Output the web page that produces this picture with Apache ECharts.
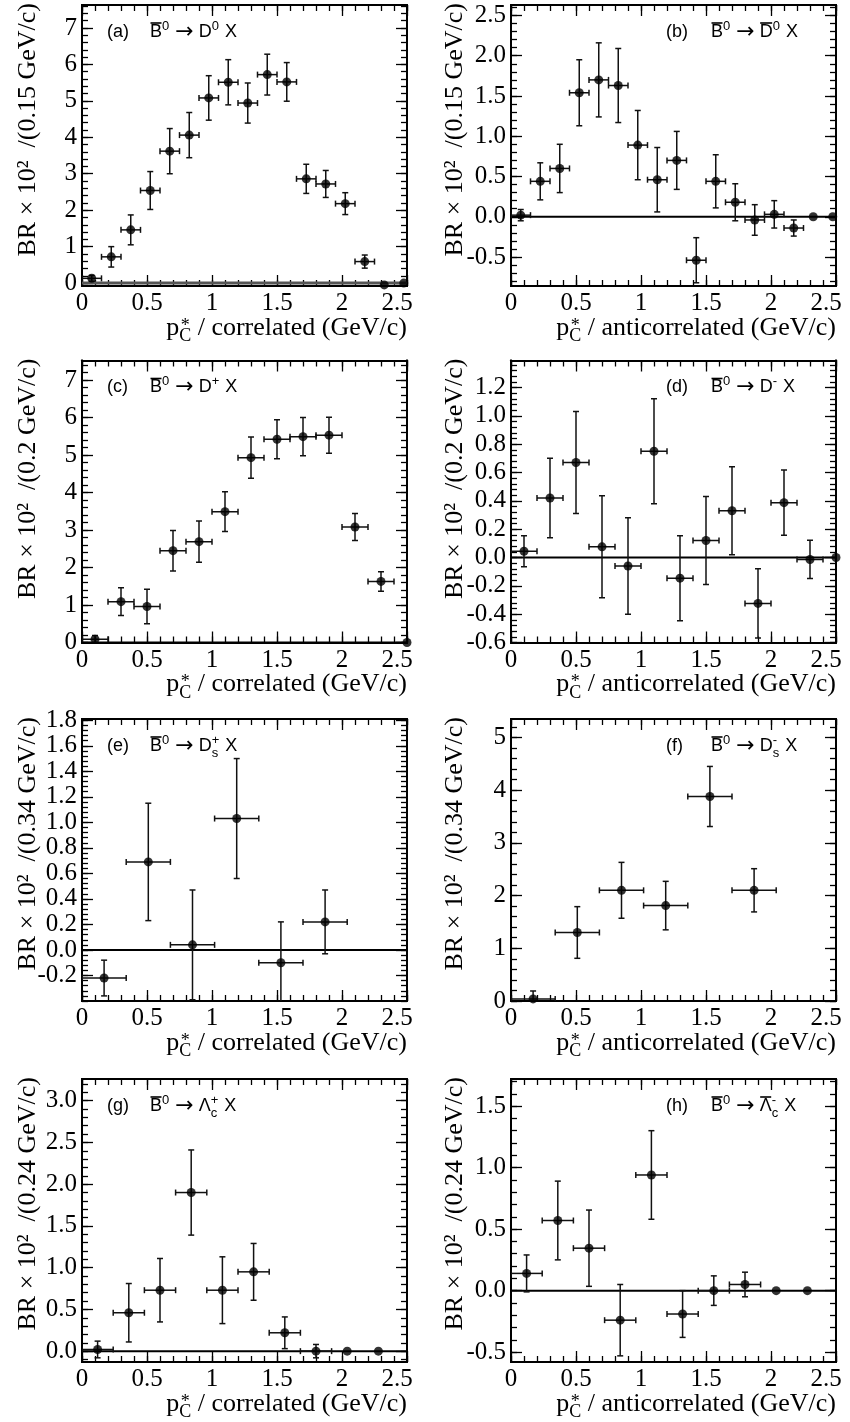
<!DOCTYPE html>
<html>
<head>
<meta charset="utf-8">
<title>B0bar -> charm, momentum spectra</title>
<script src="https://cdn.jsdelivr.net/npm/echarts@6.0.0/dist/echarts.min.js"></script>
<style>
  html, body { margin: 0; padding: 0; background: #fff; }
  #chart { width: 850px; height: 1422px; }
</style>
</head>
<body>
<div id="chart"></div>
<script>
// values: bin centre, BR x 10^2 per bin, error
// (a) D0, correlated, 0.15 GeV/c bins
const xA = [0.075, 0.225, 0.375, 0.525, 0.675, 0.825, 0.975, 1.125, 1.275, 1.425, 1.575, 1.725, 1.875, 2.025, 2.175, 2.325, 2.475]
const yA = [0.13, 0.72, 1.46, 2.54, 3.62, 4.06, 5.08, 5.51, 4.94, 5.72, 5.52, 2.86, 2.72, 2.18, 0.59, -0.05, 0.0]
const errA = [0.08, 0.28, 0.41, 0.52, 0.62, 0.62, 0.61, 0.62, 0.55, 0.56, 0.53, 0.40, 0.37, 0.30, 0.18, 0, 0]
// (b) D0bar, anticorrelated
const xB = [0.075, 0.225, 0.375, 0.525, 0.675, 0.825, 0.975, 1.125, 1.275, 1.425, 1.575, 1.725, 1.875, 2.025, 2.175, 2.325, 2.475]
const yB = [0.02, 0.44, 0.60, 1.54, 1.70, 1.63, 0.89, 0.46, 0.70, -0.54, 0.44, 0.18, -0.04, 0.03, -0.14, 0.0, 0.0]
const errB = [0.07, 0.23, 0.30, 0.41, 0.46, 0.46, 0.43, 0.40, 0.36, 0.28, 0.33, 0.23, 0.19, 0.17, 0.10, 0, 0]
// (c) D+, correlated, 0.2 GeV/c bins
const xC = [0.1, 0.3, 0.5, 0.7, 0.9, 1.1, 1.3, 1.5, 1.7, 1.9, 2.1, 2.3, 2.5]
const yC = [0.09, 1.09, 0.96, 2.45, 2.69, 3.49, 4.93, 5.42, 5.49, 5.53, 3.08, 1.63, 0.0]
const errC = [0.10, 0.37, 0.46, 0.54, 0.55, 0.53, 0.55, 0.52, 0.51, 0.48, 0.36, 0.26, 0]
// (d) D-, anticorrelated
const xD = [0.1, 0.3, 0.5, 0.7, 0.9, 1.1, 1.3, 1.5, 1.7, 1.9, 2.1, 2.3, 2.5]
const yD = [0.044, 0.42, 0.67, 0.075, -0.06, 0.75, -0.146, 0.12, 0.33, -0.324, 0.387, -0.014, 0.0]
const errD = [0.11, 0.28, 0.36, 0.36, 0.34, 0.37, 0.30, 0.31, 0.31, 0.245, 0.23, 0.135, 0]
// (e) Ds+, correlated, 0.34 GeV/c bins
const xE = [0.17, 0.51, 0.85, 1.19, 1.53, 1.87]
const yE = [-0.22, 0.69, 0.04, 1.03, -0.10, 0.22]
const errE = [0.14, 0.46, 0.43, 0.47, 0.32, 0.25]
// (f) Ds-, anticorrelated
const xF = [0.17, 0.51, 0.85, 1.19, 1.53, 1.87]
const yF = [0.04, 1.30, 2.10, 1.81, 3.88, 2.10]
const errF = [0.15, 0.49, 0.53, 0.46, 0.57, 0.41]
// (g) Lambda_c+, correlated, 0.24 GeV/c bins
const xG = [0.12, 0.36, 0.60, 0.84, 1.08, 1.32, 1.56, 1.80, 2.04, 2.28]
const yG = [0.02, 0.46, 0.73, 1.90, 0.73, 0.95, 0.22, 0.0, 0.0, 0.0]
const errG = [0.10, 0.35, 0.38, 0.51, 0.40, 0.34, 0.19, 0.08, 0, 0]
// (h) Lambda_c-bar, anticorrelated
const xH = [0.12, 0.36, 0.60, 0.84, 1.08, 1.32, 1.56, 1.80, 2.04, 2.28]
const yH = [0.14, 0.57, 0.345, -0.24, 0.94, -0.19, 0.0, 0.05, 0.0, 0.0]
const errH = [0.15, 0.32, 0.31, 0.29, 0.36, 0.19, 0.12, 0.10, 0, 0]

// tick labels
const xTicks = [0, 0.5, 1, 1.5, 2, 2.5]
const yTicksA = [0, 1, 2, 3, 4, 5, 6, 7]
const yTicksB = [-0.5, 0, 0.5, 1, 1.5, 2, 2.5]
const yTicksC = [0, 1, 2, 3, 4, 5, 6, 7]
const yTicksD = [-0.6, -0.4, -0.2, 0, 0.2, 0.4, 0.6, 0.8, 1.0, 1.2]
const yTicksE = [-0.2, 0, 0.2, 0.4, 0.6, 0.8, 1.0, 1.2, 1.4, 1.6, 1.8]
const yTicksF = [0, 1, 2, 3, 4, 5]
const yTicksG = [0, 0.5, 1, 1.5, 2, 2.5, 3]
const yTicksH = [-0.5, 0, 0.5, 1, 1.5]
const zeroLine = [[0, 0], [2.5, 0]]

const SERIF = '"Liberation Serif", "DejaVu Serif", serif'
const SANS = '"Liberation Sans", "DejaVu Sans", sans-serif'
const ARROW_FONT = '"DejaVu Sans", sans-serif'

// pieces of the decay labels
const B0 = [{ t: 'B', bar: 1 }, { sup: '0' }, { t: ' ' }, { t: '\u2192', fam: ARROW_FONT, size: 22 }, { t: ' ' }]
const panels = [
  { tag: '(a)', x: xA, y: yA, err: errA, half: 0.075, yTicks: yTicksA, yMin: -0.08, yMax: 7.63, minor: 0.2, dec: 0, bin: '0.15', kind: 'correlated', zero: '#555', zeroW: 3,
    decay: B0.concat([{ t: 'D' }, { sup: '0' }, { t: ' X' }]) },
  { tag: '(b)', x: xB, y: yB, err: errB, half: 0.075, yTicks: yTicksB, yMin: -0.86, yMax: 2.63, minor: 0.1, dec: 1, bin: '0.15', kind: 'anticorrelated',
    decay: B0.concat([{ t: 'D', bar: 1 }, { sup: '0' }, { t: ' X' }]) },
  { tag: '(c)', x: xC, y: yC, err: errC, half: 0.1, yTicks: yTicksC, yMin: 0, yMax: 7.52, minor: 0.2, dec: 0, bin: '0.2', kind: 'correlated',
    decay: B0.concat([{ t: 'D' }, { sup: '+' }, { t: ' X' }]) },
  { tag: '(d)', x: xD, y: yD, err: errD, half: 0.1, yTicks: yTicksD, yMin: -0.6, yMax: 1.39, minor: 0.04, dec: 1, bin: '0.2', kind: 'anticorrelated',
    decay: B0.concat([{ t: 'D' }, { sup: '-' }, { t: ' X' }]) },
  { tag: '(e)', x: xE, y: yE, err: errE, half: 0.17, yTicks: yTicksE, yMin: -0.4, yMax: 1.81, minor: 0.04, dec: 1, bin: '0.34', kind: 'correlated',
    decay: B0.concat([{ t: 'D' }, { sup: '+', sub: 's' }, { t: ' X' }]) },
  { tag: '(f)', x: xF, y: yF, err: errF, half: 0.17, yTicks: yTicksF, yMin: 0, yMax: 5.35, minor: 0.2, dec: 0, bin: '0.34', kind: 'anticorrelated',
    decay: B0.concat([{ t: 'D' }, { sup: '-', sub: 's' }, { t: ' X' }]) },
  { tag: '(g)', x: xG, y: yG, err: errG, half: 0.12, yTicks: yTicksG, yMin: -0.13, yMax: 3.26, minor: 0.1, dec: 1, bin: '0.24', kind: 'correlated',
    decay: B0.concat([{ t: '\u039b' }, { sup: '+', sub: 'c' }, { t: ' X' }]) },
  { tag: '(h)', x: xH, y: yH, err: errH, half: 0.12, yTicks: yTicksH, yMin: -0.58, yMax: 1.72, minor: 0.1, dec: 1, bin: '0.24', kind: 'anticorrelated',
    decay: B0.concat([{ t: '\u039b', bar: 1 }, { sup: '-', sub: 'c' }, { t: ' X' }]) }
]

// layout (px)
const colLeft = [82, 511]
const plotW = 325
const rowTop = [5, 360.5, 719, 1079]
const rowH = [281, 282, 282, 283]
const LABEL_SIZE = 18
const SCRIPT_SIZE = 13

const ctx = document.createElement('canvas').getContext('2d')
function measure(s, size, fam) {
  ctx.font = size + 'px ' + fam
  return ctx.measureText(s).width
}

function steps(min, max, step) {
  const out = []
  for (let k = Math.ceil(min / step - 1e-9); k * step <= max + 1e-9; k++) out.push(+(k * step).toFixed(6))
  return out
}

function axis(gi, pos, min, max, values, tickLen, fmt) {
  return {
    type: 'value', gridIndex: gi, position: pos, min: min, max: max,
    axisLine: { show: true, onZero: false, lineStyle: { color: '#000', width: 2 } },
    axisTick: { show: true, inside: true, length: tickLen, customValues: values, lineStyle: { color: '#000', width: 1.3 } },
    axisLabel: fmt ? {
      show: true, customValues: values, formatter: fmt, color: '#000',
      fontFamily: SERIF, fontSize: 25, margin: 5,
      rich: { e: { fontFamily: SERIF, fontSize: 25, color: '#000', padding: [0, 20, 0, 0] } }
    } : { show: false },
    splitLine: { show: false },
    minorTick: { show: false }
  }
}

function renderErr(params, api) {
  const x = api.value(0), y = api.value(1), ex = api.value(2), ey = api.value(3)
  if (!ey) return
  const c = api.coord([x, y])
  const xl = api.coord([x - ex, y])[0], xr = api.coord([x + ex, y])[0]
  const yt = api.coord([x, y + ey])[1], yb = api.coord([x, y - ey])[1]
  const s = { stroke: '#111', lineWidth: 1.5 }
  const k = 3
  const seg = (x1, y1, x2, y2) => ({ type: 'line', shape: { x1: x1, y1: y1, x2: x2, y2: y2 }, style: s })
  return {
    type: 'group',
    children: [
      seg(xl, c[1], xr, c[1]), seg(xl, c[1] - k, xl, c[1] + k), seg(xr, c[1] - k, xr, c[1] + k),
      seg(c[0], yt, c[0], yb), seg(c[0] - k, yt, c[0] + k, yt), seg(c[0] - k, yb, c[0] + k, yb)
    ]
  }
}

function txt(x, y, s, size, fam, align, extra) {
  return Object.assign({
    type: 'text', x: x, y: y, silent: true,
    style: { text: s, fontSize: size, fontFamily: fam, fill: '#000', align: align, verticalAlign: 'middle' }
  }, extra || {})
}

// decay label, e.g. B0bar -> D0 X
function formula(x0, yc, tokens, out) {
  let x = x0
  tokens.forEach(tk => {
    if (tk.t) {
      const size = tk.size || LABEL_SIZE, fam = tk.fam || SANS
      const w = measure(tk.t, size, fam)
      out.push(txt(x, yc, tk.t, size, fam, 'left'))
      if (tk.bar) {
        out.push({ type: 'line', silent: true, shape: { x1: x + 0.5, y1: yc - 9, x2: x + w - 0.5, y2: yc - 9 }, style: { stroke: '#000', lineWidth: 1.6 } })
      }
      x += w
    } else {
      let w = 0
      if (tk.sup) { out.push(txt(x, yc - 6, tk.sup, SCRIPT_SIZE, SANS, 'left')); w = Math.max(w, measure(tk.sup, SCRIPT_SIZE, SANS)) }
      if (tk.sub) { out.push(txt(x, yc + 7, tk.sub, SCRIPT_SIZE, SANS, 'left')); w = Math.max(w, measure(tk.sub, SCRIPT_SIZE, SANS)) }
      x += w + 1
    }
  })
}

// p*_C / correlated (GeV/c), right aligned under the frame
function xTitle(right, axisY, word, out) {
  const main = ' / ' + word + ' (GeV/c)'
  const wMain = measure(main, 26, SERIF)
  const wC = measure('C', 18, SERIF)
  const xc = right - wMain
  out.push(txt(right, axisY + 42, main, 26, SERIF, 'right'))
  out.push(txt(xc, axisY + 50.5, 'C', 18, SERIF, 'right'))
  out.push(txt(xc - wC / 2, axisY + 40, '*', 18, SERIF, 'center'))
  out.push(txt(xc - wC, axisY + 42, 'p', 26, SERIF, 'right'))
}

const grid = [], xAxis = [], yAxis = [], series = [], graphic = []

panels.forEach((p, i) => {
  const col = i % 2, row = Math.floor(i / 2)
  const left = colLeft[col], top = rowTop[row], h = rowH[row]
  grid.push({ left: left, top: top, width: plotW, height: h, outerBoundsMode: 'none', containLabel: false })

  const fmtX = v => (Math.abs(v - 2.5) < 1e-9 ? '{e|2.5}' : String(v))
  const fmtY = v => v.toFixed(p.dec)
  const minorX = steps(0, 2.5, 0.1)
  const minorY = steps(p.yMin, p.yMax, p.minor)

  xAxis.push(axis(i, 'bottom', 0, 2.5, xTicks, 11, fmtX))
  xAxis.push(axis(i, 'bottom', 0, 2.5, minorX, 6))
  xAxis.push(axis(i, 'top', 0, 2.5, xTicks, 11))
  xAxis.push(axis(i, 'top', 0, 2.5, minorX, 6))
  yAxis.push(axis(i, 'left', p.yMin, p.yMax, p.yTicks, 11, fmtY))
  yAxis.push(axis(i, 'left', p.yMin, p.yMax, minorY, 6))
  yAxis.push(axis(i, 'right', p.yMin, p.yMax, p.yTicks, 11))
  yAxis.push(axis(i, 'right', p.yMin, p.yMax, minorY, 6))

  const ai = i * 4
  series.push({
    type: 'line', xAxisIndex: ai, yAxisIndex: ai, data: zeroLine, symbol: 'none', silent: true, z: 1,
    lineStyle: { color: p.zero || '#000', width: p.zeroW || 2 }
  })
  series.push({
    type: 'custom', xAxisIndex: ai, yAxisIndex: ai, clip: true, z: 2, silent: true,
    data: p.x.map((x, k) => [x, p.y[k], p.err[k] ? p.half : 0, p.err[k]]),
    encode: { x: 0, y: 1 },
    renderItem: renderErr
  })
  series.push({
    type: 'scatter', xAxisIndex: ai, yAxisIndex: ai, clip: false, z: 3, silent: true,
    data: p.x.map((x, k) => [x, p.y[k]]),
    symbol: 'circle', symbolSize: 9, itemStyle: { color: '#000' }
  })

  // panel label and decay
  const yc = top + 27
  graphic.push(txt(left + (col ? 155 : 25), yc, p.tag, LABEL_SIZE, SANS, 'left'))
  formula(left + (col ? 200 : 68), yc, p.decay, graphic)

  // axis titles
  xTitle(left + plotW, top + h, p.kind, graphic)
  graphic.push(txt(left - (col ? 56 : 54), top - 2, 'BR \u00d7 10\u00b2  /(' + p.bin + ' GeV/c)', 26, SERIF, 'right', { rotation: Math.PI / 2 }))
})

const myChart = echarts.init(document.getElementById('chart'), null, { renderer: 'canvas' })
myChart.setOption({
  backgroundColor: '#fff',
  animation: false,
  grid: grid,
  xAxis: xAxis,
  yAxis: yAxis,
  series: series,
  graphic: graphic
})
</script>
</body>
</html>
